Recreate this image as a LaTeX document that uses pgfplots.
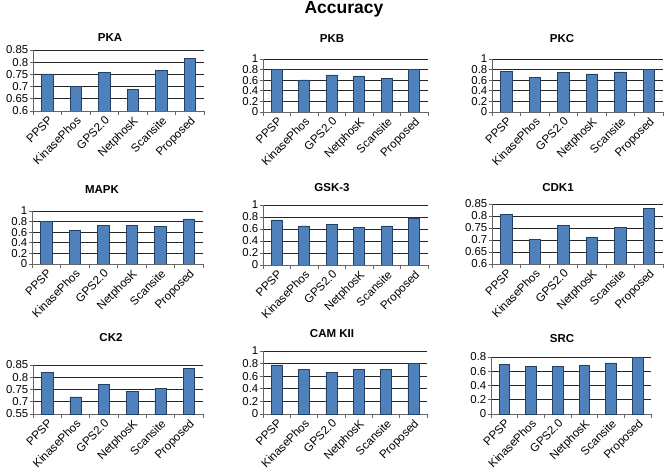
\documentclass[border=0pt]{standalone}
\usepackage{pgfplots}
\pgfplotsset{compat=1.18}
\usepackage{fontspec}
\setmainfont{Liberation Sans}

\definecolor{barfill}{RGB}{79,129,189}
\definecolor{bardraw}{RGB}{36,64,98}

\pgfplotsset{
  sub/.style={
    scale only axis,
    anchor=south west,
    ybar,
    bar width=0.4,
    bar shift=0pt,
    enlargelimits=false,
    xmin=0.5, xmax=6.5,
    xtick={1,2,3,4,5,6},
    xticklabels={PPSP,KinasePhos,GPS2.0,NetphosK,Scansite,Proposed},
    minor xtick={0.5,1.5,2.5,3.5,4.5,5.5,6.5},
    major x tick style={draw=none},
    minor tick length=4pt,
    major tick length=3pt,
    tick align=outside,
    axis x line*=bottom,
    axis y line*=left,
    axis line style={black!60, line width=0.8pt},
    tick style={black!60, line width=0.6pt},
    ymajorgrids,
    major grid style={black!85, line width=0.6pt},
    xticklabel style={rotate=45, anchor=north east, font=\fontsize{11.6}{13}\selectfont, inner sep=1pt},
    yticklabel style={font=\fontsize{11.4}{13}\selectfont, inner sep=1.5pt},
    /pgf/number format/assume math mode=true,
  },
  bars/.style={fill=barfill, draw=bardraw, line width=0.6pt},
}

\begin{document}
\begin{tikzpicture}
\useasboundingbox (0pt,0pt) rectangle (664pt,474pt);

% row 1
\begin{axis}[sub, at={(33pt,363pt)}, width=171pt, height=61pt,
  ymin=0.6, ymax=0.85, ytick={0.6,0.65,0.7,0.75,0.8,0.85},
  yticklabels={0.6,0.65,0.7,0.75,0.8,0.85}]
\addplot[bars] coordinates {(1,0.752) (2,0.700) (3,0.757) (4,0.689) (5,0.768) (6,0.816)};
\end{axis}

\begin{axis}[sub, at={(263pt,362pt)}, width=165pt, height=53pt,
  ymin=0, ymax=1, ytick={0,0.2,0.4,0.6,0.8,1},
  yticklabels={0,0.2,0.4,0.6,0.8,1}]
\addplot[bars] coordinates {(1,0.80) (2,0.605) (3,0.70) (4,0.68) (5,0.63) (6,0.80)};
\end{axis}

\begin{axis}[sub, at={(492pt,362pt)}, width=171pt, height=53pt,
  ymin=0, ymax=1, ytick={0,0.2,0.4,0.6,0.8,1},
  yticklabels={0,0.2,0.4,0.6,0.8,1}]
\addplot[bars] coordinates {(1,0.76) (2,0.66) (3,0.74) (4,0.72) (5,0.755) (6,0.80)};
\end{axis}

% row 2
\begin{axis}[sub, at={(32pt,210pt)}, width=171pt, height=53pt,
  ymin=0, ymax=1, ytick={0,0.2,0.4,0.6,0.8,1},
  yticklabels={0,0.2,0.4,0.6,0.8,1}]
\addplot[bars] coordinates {(1,0.80) (2,0.64) (3,0.73) (4,0.73) (5,0.71) (6,0.85)};
\end{axis}

\begin{axis}[sub, at={(263pt,209pt)}, width=165pt, height=60pt,
  ymin=0, ymax=1, ytick={0,0.2,0.4,0.6,0.8,1},
  yticklabels={0,0.2,0.4,0.6,0.8,1}]
\addplot[bars] coordinates {(1,0.75) (2,0.65) (3,0.683) (4,0.628) (5,0.65) (6,0.785)};
\end{axis}

\begin{axis}[sub, at={(492pt,210pt)}, width=171pt, height=60pt,
  ymin=0.6, ymax=0.85, ytick={0.6,0.65,0.7,0.75,0.8,0.85},
  yticklabels={0.6,0.65,0.7,0.75,0.8,0.85}]
\addplot[bars] coordinates {(1,0.808) (2,0.703) (3,0.76) (4,0.711) (5,0.753) (6,0.832)};
\end{axis}

% row 3
\begin{axis}[sub, at={(33pt,60pt)}, width=170pt, height=49pt,
  ymin=0.65, ymax=0.85, ytick={0.65,0.7,0.75,0.8,0.85},
  yticklabels={0.55,0.7,0.75,0.8,0.85}]
\addplot[bars] coordinates {(1,0.819) (2,0.72) (3,0.772) (4,0.743) (5,0.753) (6,0.837)};
\end{axis}

\begin{axis}[sub, at={(263pt,60pt)}, width=164pt, height=63pt,
  ymin=0, ymax=1, ytick={0,0.2,0.4,0.6,0.8,1},
  yticklabels={0,0.2,0.4,0.6,0.8,1}]
\addplot[bars] coordinates {(1,0.78) (2,0.71) (3,0.663) (4,0.71) (5,0.71) (6,0.805)};
\end{axis}

\begin{axis}[sub, at={(491pt,60pt)}, width=160pt, height=57pt,
  ymin=0, ymax=0.8, ytick={0,0.2,0.4,0.6,0.8},
  yticklabels={0,0.2,0.4,0.6,0.8}]
\addplot[bars] coordinates {(1,0.70) (2,0.67) (3,0.67) (4,0.683) (5,0.716) (6,0.80)};
\end{axis}

% titles
\begin{scope}[every node/.style={font=\fontsize{11.5}{13}\selectfont\bfseries, anchor=base, inner sep=0pt}]
\node at (110pt,432pt) {PKA};
\node at (332pt,431pt) {PKB};
\node at (562pt,431pt) {PKC};
\node at (102pt,280pt) {MAPK};
\node at (332pt,282pt) {GSK-3};
\node at (558pt,282pt) {CDK1};
\node at (111pt,132pt) {CK2};
\node at (332pt,136pt) {CAM KII};
\node at (562pt,131pt) {SRC};
\end{scope}
\node[font=\fontsize{17.5}{20}\selectfont\bfseries, anchor=base, inner sep=0pt] at (344pt,460pt) {Accuracy};
\end{tikzpicture}
\end{document}
